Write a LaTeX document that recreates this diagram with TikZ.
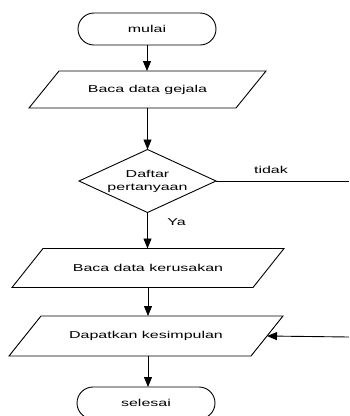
\documentclass[tikz,border=0pt]{standalone}
\usepackage{fontspec}
\setmainfont{Liberation Sans}[FakeStretch=1.6]
\usetikzlibrary{shapes.geometric,shapes.misc,arrows.meta}
\begin{document}
\begin{tikzpicture}[x=1pt,y=-1pt,
  every node/.style={font=\fontsize{10}{13}\selectfont},
  flowline/.style={line width=0.9pt},
  arrowline/.style={flowline,-{Triangle[length=10pt,width=8pt]}},
  outline/.style={line width=0.9pt,line join=miter},
  terminal/.style={draw,line width=0.9pt,rounded rectangle,
    minimum width=138pt,minimum height=32pt,inner sep=0pt,outer sep=0pt},
  iobox/.style={rectangle,inner sep=0pt,outer sep=0pt},
  decision/.style={draw,line width=0.9pt,diamond,align=center,aspect=2.17,
    minimum width=137pt,minimum height=63pt,inner sep=0pt,outer sep=0pt},
  edgelabel/.style={inner sep=0pt}
]
\useasboundingbox (0,0) rectangle (349,416);
\clip (0,0) rectangle (349,416);

% flowchart steps (data boxes get their slanted outline below)
\node[terminal] (start) at (147,29) {mulai};
\node[iobox,minimum width=237pt,minimum height=37pt] (gejala) at (147.5,89.5) {Baca data gejala};
\node[decision] (tanya) at (147.5,181) {Daftar\\pertanyaan};
\node[iobox,minimum width=272pt,minimum height=39pt] (rusak) at (148,268) {Baca data kerusakan};
\node[iobox,minimum width=274pt,minimum height=40pt] (simpul) at (146,336) {Dapatkan kesimpulan};
\node[terminal] (stop) at (146,403) {selesai};

% parallelogram outlines of the data boxes
\draw[outline] ([xshift=30pt]gejala.north west) -- (gejala.north east)
  -- ([xshift=-30pt]gejala.south east) -- (gejala.south west) -- cycle;
\draw[outline] ([xshift=31pt]rusak.north west) -- (rusak.north east)
  -- ([xshift=-31pt]rusak.south east) -- (rusak.south west) -- cycle;
\draw[outline] ([xshift=32pt]simpul.north west) -- (simpul.north east)
  -- ([xshift=-32pt]simpul.south east) -- (simpul.south west) -- cycle;

% loose ends running off to the right
\coordinate (tidakend) at (349,181);
\coordinate (backin) at (349,337);
\coordinate (simpulright) at ([xshift=-16pt]simpul.east);

% connectors
\draw[arrowline] (start.south) -- (start.south |- gejala.north);
\draw[arrowline] (gejala.south) -- (gejala.south |- tanya.north);
\draw[arrowline] (tanya.south) -- (tanya.south |- rusak.north);
\draw[arrowline] (rusak.south) -- (rusak.south |- simpul.north);
\draw[arrowline] (rusak.south |- simpul.south) -- (rusak.south |- stop.north);
\draw[flowline] (tanya.east) -- (tidakend);
\draw[arrowline] (backin) -- (simpulright);

% branch labels
\node[edgelabel] (tidak) at (271,170) {tidak};
\node[edgelabel] (ya) at (176.5,222) {Ya};
\end{tikzpicture}
\end{document}
